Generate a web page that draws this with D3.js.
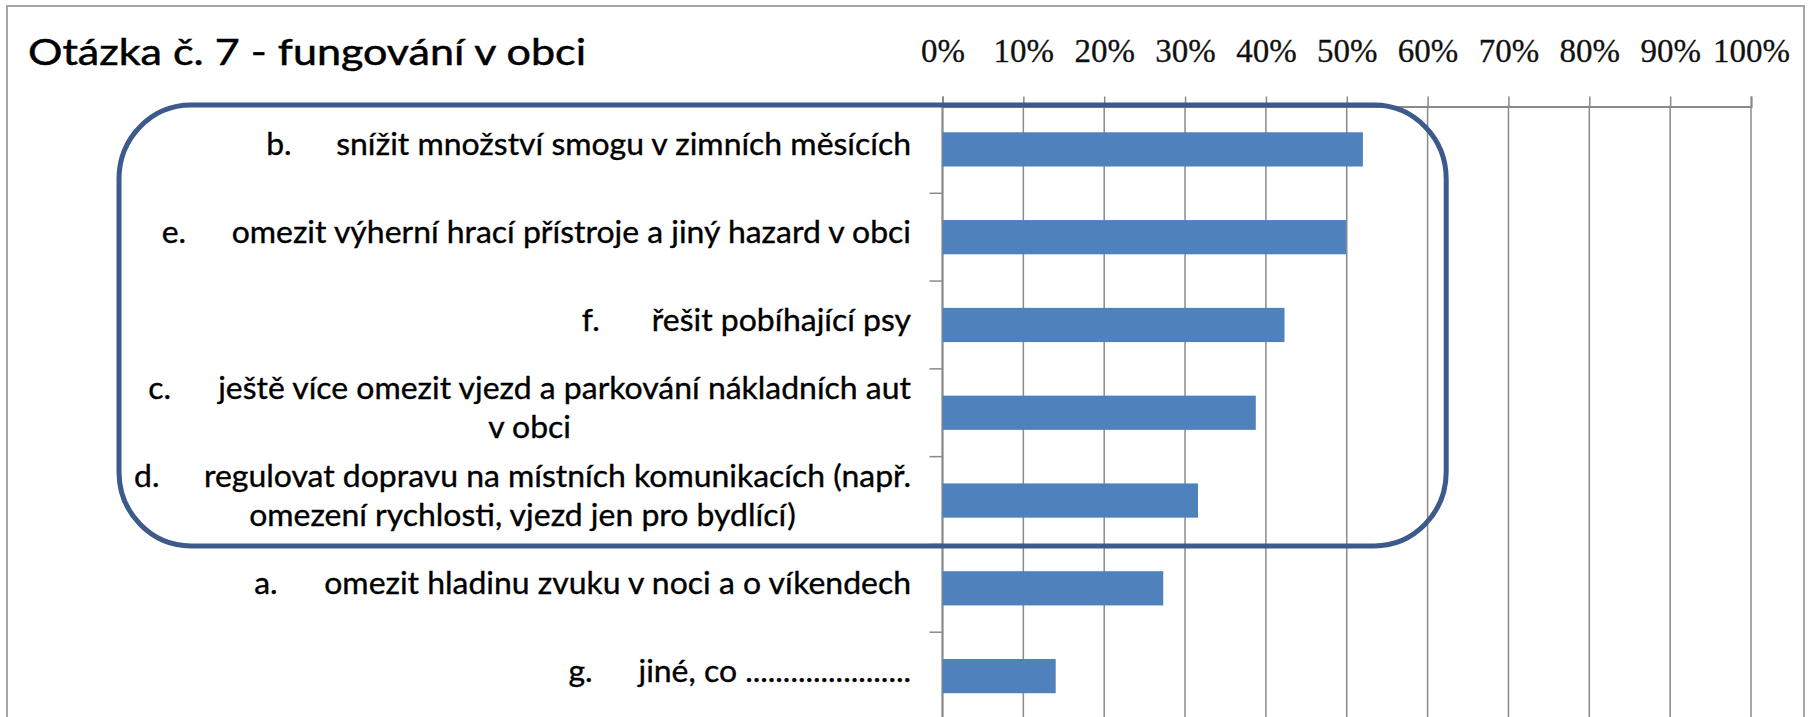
<!DOCTYPE html>
<html>
<head>
<meta charset="utf-8">
<script src="https://cdn.jsdelivr.net/npm/d3@7/dist/d3.min.js"></script>
<style>
  html, body { margin: 0; padding: 0; background: #fff; }
  svg { display: block; }
</style>
</head>
<body>
<svg id="chart" width="1810" height="717"></svg>
<script>
// Chart data
const title = "Otázka č. 7 - fungování v obci";
const letters = ["b.", "e.", "f.", "c.", "d.", "a.", "g."];
const labelLines = [
    ["snížit množství smogu v zimních měsících"],
    ["omezit výherní hrací přístroje a jiný hazard v obci"],
    ["řešit pobíhající psy"],
    ["ještě více omezit vjezd a parkování nákladních aut", "v obci"],
    ["regulovat dopravu na místních komunikacích (např.", "omezení rychlosti, vjezd jen pro bydlící)"],
    ["omezit hladinu zvuku v noci a o víkendech"],
    ["jiné, co ......................"]
];
const values = [0.52, 0.499, 0.423, 0.3875, 0.316, 0.273, 0.14];
const tickValues = [0, 0.1, 0.2, 0.3, 0.4, 0.5, 0.6, 0.7, 0.8, 0.9, 1];
const highlighted = ["b.", "e.", "f.", "c.", "d."];

const svg = d3.select("#chart");
const gridColor = "#8a8a8a";
const barColor = "#4f81bd";
const frameColor = "#3d5a8c";

// outer chart border
svg.append("rect")
    .attr("x", 7).attr("y", 6)
    .attr("width", 1797).attr("height", 730)
    .attr("fill", "#fff")
    .attr("stroke", "#a6a6a6")
    .attr("stroke-width", 2);

const x = d3.scaleLinear().domain([0, 1]).range([942.5, 1751]);
const y = d3.scaleBand()
    .domain(letters)
    .range([105.5, 720])
    .paddingInner(0.61)
    .paddingOuter(0.305);

// gridlines
svg.append("g")
    .selectAll("line")
    .data(tickValues)
    .join("line")
    .attr("x1", d => x(d)).attr("x2", d => x(d))
    .attr("y1", y.range()[0]).attr("y2", 740)
    .attr("stroke", gridColor)
    .attr("stroke-width", 1.5);

// top axis
const xAxis = d3.axisTop(x)
    .tickValues(tickValues)
    .tickFormat(d3.format(".0%"))
    .tickSize(10)
    .tickPadding(35);

const gx = svg.append("g")
    .attr("transform", `translate(0,${y.range()[0] + 1})`)
    .call(xAxis);
gx.select(".domain").attr("stroke", gridColor).attr("stroke-width", 2);
gx.selectAll(".tick line").attr("stroke", gridColor).attr("stroke-width", 1.5);
gx.selectAll(".tick text")
    .attr("fill", "#111")
    .attr("stroke", "#111")
    .attr("stroke-width", 0.3)
    .style("font-family", "'Liberation Serif', 'DejaVu Serif', serif")
    .style("font-size", "33px");

// left axis line with ticks between categories
const step = y.step();
const bounds = letters.map((d, i) => y.range()[0] + step * i);
svg.append("line")
    .attr("x1", x(0)).attr("x2", x(0))
    .attr("y1", y.range()[0]).attr("y2", 740)
    .attr("stroke", gridColor).attr("stroke-width", 2);
svg.append("g")
    .selectAll("line")
    .data(bounds.slice(1))
    .join("line")
    .attr("x1", x(0) - 13).attr("x2", x(0))
    .attr("y1", d => d).attr("y2", d => d)
    .attr("stroke", gridColor).attr("stroke-width", 1.5);

// bars
svg.append("g")
    .selectAll("rect")
    .data(values)
    .join("rect")
    .attr("x", x(0))
    .attr("y", (d, i) => y(letters[i]))
    .attr("width", d => x(d) - x(0))
    .attr("height", y.bandwidth())
    .attr("fill", barColor);

// category labels (letter + text, right aligned, wrapped lines centred)
const labelFont = "Lato, 'Open Sans', sans-serif";
const labelSize = 30;
const labelRight = x(0) - 31.5;
const letterGap = 70;
const lineGap = 39;

const measure = svg.append("text")
    .style("font-family", labelFont)
    .style("font-size", labelSize + "px");
function naturalWidth(s) {
    measure.text(s);
    return measure.node().getComputedTextLength();
}
// squeeze factor: reference text is narrow (Calibri-like, condensed)
const squeeze = 707 / naturalWidth(labelLines[4][0]);

const labels = svg.append("g")
    .style("font-family", labelFont)
    .style("font-size", labelSize + "px")
    .attr("fill", "#000")
    .attr("stroke", "#000")
    .attr("stroke-width", 0.35);

letters.forEach((letter, i) => {
    const lines = labelLines[i];
    const cy = y(letter) + y.bandwidth() / 2;
    const firstBase = cy + 6 - (lines.length - 1) * lineGap / 2;

    const w1 = naturalWidth(lines[0]) * squeeze;
    const bodyStart = labelRight - w1;
    const letterX = bodyStart - letterGap;

    labels.append("text")
        .attr("x", letterX).attr("y", firstBase)
        .attr("textLength", naturalWidth(letter) * squeeze)
        .attr("lengthAdjust", "spacingAndGlyphs")
        .text(letter);
    labels.append("text")
        .attr("x", bodyStart).attr("y", firstBase)
        .attr("textLength", w1)
        .attr("lengthAdjust", "spacingAndGlyphs")
        .text(lines[0]);

    const mid = (letterX + labelRight) / 2;
    lines.slice(1).forEach((line, j) => {
        labels.append("text")
            .attr("x", mid).attr("y", firstBase + lineGap * (j + 1))
            .attr("text-anchor", "middle")
            .attr("textLength", naturalWidth(line) * squeeze)
            .attr("lengthAdjust", "spacingAndGlyphs")
            .text(line);
    });
});
measure.remove();

// rounded frame around the highlighted answers
const frameTop = y(highlighted[0]) - y.step() * y.paddingOuter() - 0.5;
const frameBottom = y(highlighted[highlighted.length - 1]) + y.bandwidth() + y.step() * y.paddingOuter() + 1.5;
svg.append("rect")
    .attr("x", 119)
    .attr("y", frameTop)
    .attr("width", x(0.623) - 119)
    .attr("height", frameBottom - frameTop)
    .attr("rx", 72).attr("ry", 74)
    .attr("fill", "none")
    .attr("stroke", frameColor)
    .attr("stroke-width", 5);

// title
svg.append("text")
    .attr("x", 28).attr("y", 65)
    .attr("textLength", 558)
    .attr("lengthAdjust", "spacingAndGlyphs")
    .style("font-family", "Lato, 'Open Sans', sans-serif")
    .style("font-size", "36px")
    .attr("fill", "#000")
    .attr("stroke", "#000")
    .attr("stroke-width", 0.5)
    .text(title);
</script>
</body>
</html>
